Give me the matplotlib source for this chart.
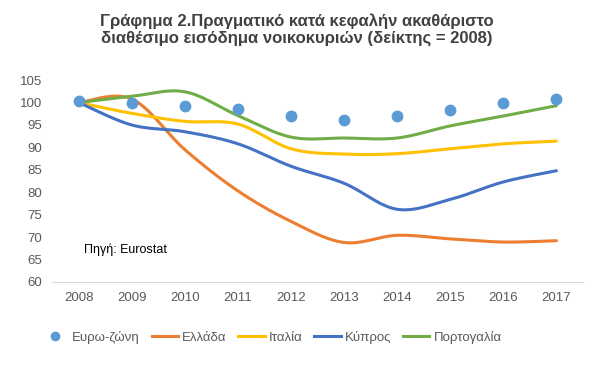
import matplotlib
matplotlib.use("Agg")
import matplotlib.pyplot as plt
from matplotlib.lines import Line2D
import numpy as np

plt.rcParams['font.family'] = ['Liberation Sans', 'DejaVu Sans']

years = [2008, 2009, 2010, 2011, 2012, 2013, 2014, 2015, 2016, 2017]
eurozone = [100.3, 100.0, 99.2, 98.6, 97.0, 96.1, 97.0, 98.4, 99.8, 100.9]
greece = [100.0, 100.8, 89.5, 80.3, 73.5, 68.8, 70.4, 69.6, 68.9, 69.2]
italy = [100.0, 97.6, 95.8, 95.2, 89.7, 88.5, 88.6, 89.7, 90.8, 91.4]
cyprus = [100.0, 95.0, 93.5, 90.8, 85.8, 82.0, 76.2, 78.4, 82.3, 84.8]
portugal = [100.0, 101.4, 102.4, 97.1, 92.3, 92.1, 92.1, 94.8, 97.0, 99.3]

yticks = [60, 65, 70, 75, 80, 85, 90, 95, 100, 105]
title = "Γράφημα 2.Πραγματικό κατά κεφαλήν ακαθάριστο\nδιαθέσιμο εισόδημα νοικοκυριών (δείκτης = 2008)"


def smooth(x, y, n=30):
    # Excel-style smoothed line: Catmull-Rom bezier through the points
    x = np.asarray(x, float)
    y = np.asarray(y, float)
    px = np.concatenate([[x[0]], x, [x[-1]]])
    py = np.concatenate([[y[0]], y, [y[-1]]])
    xs, ys = [], []
    t = np.linspace(0, 1, n)
    for i in range(1, len(px) - 2):
        p0 = np.array([px[i], py[i]])
        p3 = np.array([px[i + 1], py[i + 1]])
        c1 = p0 + (np.array([px[i + 1], py[i + 1]]) - np.array([px[i - 1], py[i - 1]])) / 6
        c2 = p3 - (np.array([px[i + 2], py[i + 2]]) - np.array([px[i], py[i]])) / 6
        b = ((1 - t) ** 3)[:, None] * p0 + (3 * (1 - t) ** 2 * t)[:, None] * c1 \
            + (3 * (1 - t) * t ** 2)[:, None] * c2 + (t ** 3)[:, None] * p3
        xs.extend(b[:, 0])
        ys.extend(b[:, 1])
    return xs, ys


fig = plt.figure(figsize=(5.93, 3.71), dpi=100)
ax = fig.add_axes([0.088, 0.24, 0.895, 0.544])

series = [(greece, '#ED7D31', 'Ελλάδα'), (italy, '#FFC000', 'Ιταλία'),
          (cyprus, '#4472C4', 'Κύπρος'), (portugal, '#70AD47', 'Πορτογαλία')]
handles = [Line2D([], [], ls='none', marker='o', ms=6, color='#5B9BD5', label='Ευρω-ζώνη')]
for vals, col, name in series:
    sx, sy = smooth(years, vals)
    ax.plot(sx, sy, color=col, lw=2.2, solid_capstyle='round')
    handles.append(Line2D([], [], color=col, lw=2.2, label=name))
ax.plot(years, eurozone, ls='none', marker='o', ms=7.5, color='#5B9BD5', zorder=5)

ax.set_xlim(2007.5, 2017.5)
ax.set_ylim(60, 105)
ax.set_yticks(yticks)
ax.set_xticks(years)
ax.tick_params(length=0, labelsize=9.5, colors='#595959', pad=7)
for s in ['top', 'right', 'left']:
    ax.spines[s].set_visible(False)
ax.spines['bottom'].set_color('#D9D9D9')

ax.text(2008.1, 66.5, 'Πηγή: Eurostat', fontsize=9, color='black')

fig.text(0.5, 0.965, title, ha='center', va='top', fontsize=12, color='#404040',
         fontweight='bold', linespacing=1.2)

fig.legend(handles=handles, loc='center', bbox_to_anchor=(0.458, 0.09), ncol=5,
           frameon=False, fontsize=9.5, labelcolor='#595959', handlelength=2.0,
           handletextpad=0.3, columnspacing=0.9)

fig.savefig('out.png', dpi=100)
